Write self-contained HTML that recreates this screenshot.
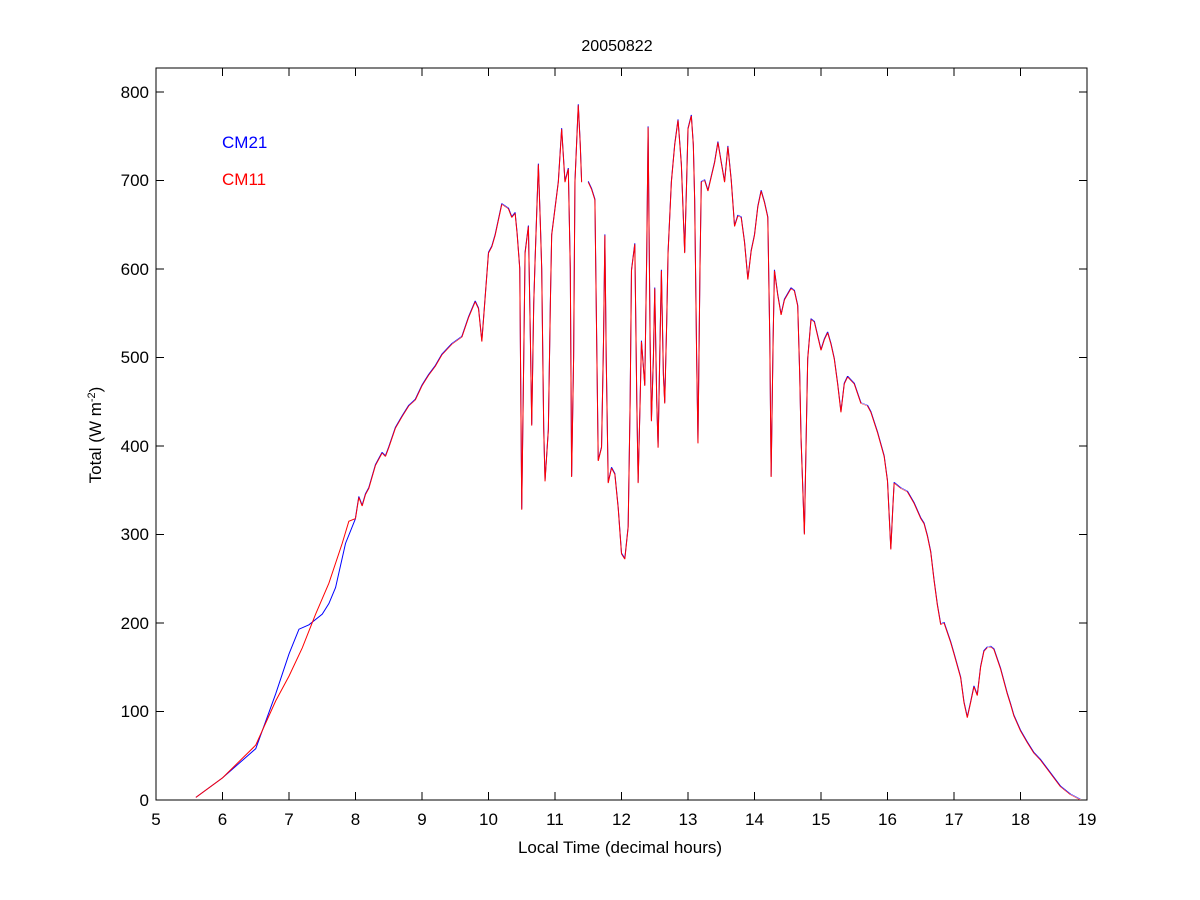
<!DOCTYPE html>
<html><head><meta charset="utf-8"><style>
html,body{margin:0;padding:0;background:#fff;}
svg{display:block;font-family:"Liberation Sans",Arial,sans-serif;}
</style></head><body>
<svg width="1200" height="900" viewBox="0 0 1200 900" xmlns="http://www.w3.org/2000/svg">
<rect width="1200" height="900" fill="#fff"/>
<rect x="156" y="68" width="931" height="732" fill="none" stroke="#000" stroke-width="1"/>
<g stroke="#000" stroke-width="1">
<path d="M156 800v-8M222.5 800v-8M289 800v-8M355.5 800v-8M422 800v-8M488.5 800v-8M555 800v-8M621.5 800v-8M688 800v-8M754.5 800v-8M821 800v-8M887.5 800v-8M954 800v-8M1020.5 800v-8M1087 800v-8"/>
<path d="M156 68v8M222.5 68v8M289 68v8M355.5 68v8M422 68v8M488.5 68v8M555 68v8M621.5 68v8M688 68v8M754.5 68v8M821 68v8M887.5 68v8M954 68v8M1020.5 68v8M1087 68v8"/>
<path d="M156 800h8M156 711.5h8M156 623h8M156 534.5h8M156 446h8M156 357.5h8M156 269h8M156 180.5h8M156 92h8"/>
<path d="M1087 800h-8M1087 711.5h-8M1087 623h-8M1087 534.5h-8M1087 446h-8M1087 357.5h-8M1087 269h-8M1087 180.5h-8M1087 92h-8"/>
</g>
<g font-size="17" fill="#000" text-anchor="middle">
<text x="156" y="825">5</text><text x="222.5" y="825">6</text><text x="289" y="825">7</text><text x="355.5" y="825">8</text><text x="422" y="825">9</text><text x="488.5" y="825">10</text><text x="555" y="825">11</text><text x="621.5" y="825">12</text><text x="688" y="825">13</text><text x="754.5" y="825">14</text><text x="821" y="825">15</text><text x="887.5" y="825">16</text><text x="954" y="825">17</text><text x="1020.5" y="825">18</text><text x="1087" y="825">19</text>
</g>
<g font-size="17" fill="#000" text-anchor="end">
<text x="149" y="806">0</text><text x="149" y="717">100</text><text x="149" y="629">200</text><text x="149" y="540">300</text><text x="149" y="452">400</text><text x="149" y="363">500</text><text x="149" y="275">600</text><text x="149" y="186">700</text><text x="149" y="98">800</text>
</g>
<text x="620" y="853" font-size="17" text-anchor="middle">Local Time (decimal hours)</text>
<text x="617" y="51" font-size="16" text-anchor="middle">20050822</text>
<text transform="translate(101,435) rotate(-90)" font-size="17" text-anchor="middle">Total (W m<tspan dy="-6" font-size="11">-2</tspan><tspan dy="6">)</tspan></text>
<text x="222" y="148" font-size="17" fill="#0000ff">CM21</text>
<text x="222" y="185" font-size="17" fill="#ff0000">CM11</text>
<defs>
<polyline id="s" fill="none" points="8,318 8.05,342 8.1,332 8.15,345 8.2,352 8.3,378 8.4,392 8.45,388 8.5,398 8.6,420 8.7,433 8.8,445 8.9,452 9,468 9.1,480 9.2,490 9.3,503 9.45,515 9.6,523 9.7,545 9.8,563 9.85,555 9.9,518 9.95,568 10,618 10.05,625 10.1,638 10.2,673 10.3,668 10.35,658 10.4,663 10.43,640 10.47,600 10.5,328 10.53,500 10.55,618 10.6,648 10.63,520 10.65,423 10.68,560 10.7,608 10.75,718 10.78,650 10.8,600 10.83,420 10.85,360 10.9,418 10.93,560 10.95,638 11,668 11.05,698 11.1,758 11.15,698 11.2,713 11.23,600 11.25,365 11.28,500 11.3,698 11.35,785 11.38,740 11.4,698 11.5,698 11.55,690 11.6,678 11.63,500 11.65,383 11.7,398 11.73,520 11.75,638 11.77,500 11.8,358 11.85,375 11.9,368 11.95,330 12,278 12.05,272 12.1,308 12.13,450 12.15,598 12.2,628 12.23,450 12.25,358 12.28,450 12.3,518 12.35,468 12.38,620 12.4,760 12.43,520 12.45,428 12.48,500 12.5,578 12.53,450 12.55,398 12.58,520 12.6,598 12.63,480 12.65,448 12.68,540 12.7,618 12.75,698 12.8,740 12.85,768 12.9,718 12.95,618 12.98,700 13,758 13.05,773 13.08,740 13.1,678 13.13,500 13.15,403 13.18,600 13.2,698 13.25,700 13.3,688 13.4,720 13.45,743 13.5,720 13.55,698 13.6,738 13.65,700 13.7,648 13.75,660 13.8,658 13.85,630 13.9,588 13.95,620 14,638 14.05,670 14.1,688 14.15,675 14.2,658 14.23,520 14.25,365 14.28,520 14.3,598 14.35,570 14.4,548 14.45,565 14.55,578 14.6,575 14.65,558 14.68,480 14.7,408 14.75,300 14.78,420 14.8,498 14.85,543 14.9,540 15,508 15.05,520 15.1,528 15.15,515 15.2,498 15.25,470 15.3,438 15.35,470 15.4,478 15.5,470 15.6,448 15.7,445 15.75,438 15.85,415 15.95,388 16,360 16.05,283 16.08,330 16.1,358 16.2,352 16.3,348 16.4,335 16.5,318 16.55,312 16.6,298 16.65,280 16.7,248 16.75,220 16.8,198 16.85,200 16.95,178 17,165 17.1,138 17.15,110 17.2,93 17.25,110 17.3,128 17.35,118 17.4,150 17.45,168 17.5,172 17.55,173 17.6,170 17.7,148 17.8,120 17.85,108 17.9,95 18,78 18.1,65 18.2,53 18.3,45 18.4,35 18.5,25 18.6,15 18.75,6 18.9,0"/>
</defs>
<g transform="translate(-176.5,800) scale(66.5,-0.885)" fill="none">
<polyline vector-effect="non-scaling-stroke" stroke="#0000ff" stroke-width="1" points="5.6,3 6,25 6.5,58 6.8,120 7,165 7.15,193 7.3,198 7.5,210 7.6,222 7.7,240 7.85,290 8,318"/>
</g>
<g transform="translate(-176.5,799) scale(66.5,-0.885)" fill="none">
<use href="#s" vector-effect="non-scaling-stroke" stroke="#0000ff" stroke-width="0.015"/>
</g>
<g transform="translate(-176.5,800) scale(66.5,-0.885)" fill="none">
<polyline vector-effect="non-scaling-stroke" stroke="#ff0000" stroke-width="1" points="5.6,3 6,25 6.5,62 6.8,112 7,140 7.2,172 7.4,210 7.6,245 7.8,290 7.9,315 8,318"/>
<use href="#s" stroke="#ff0000" stroke-width="0.015"/>
</g>
</svg>
</body></html>
